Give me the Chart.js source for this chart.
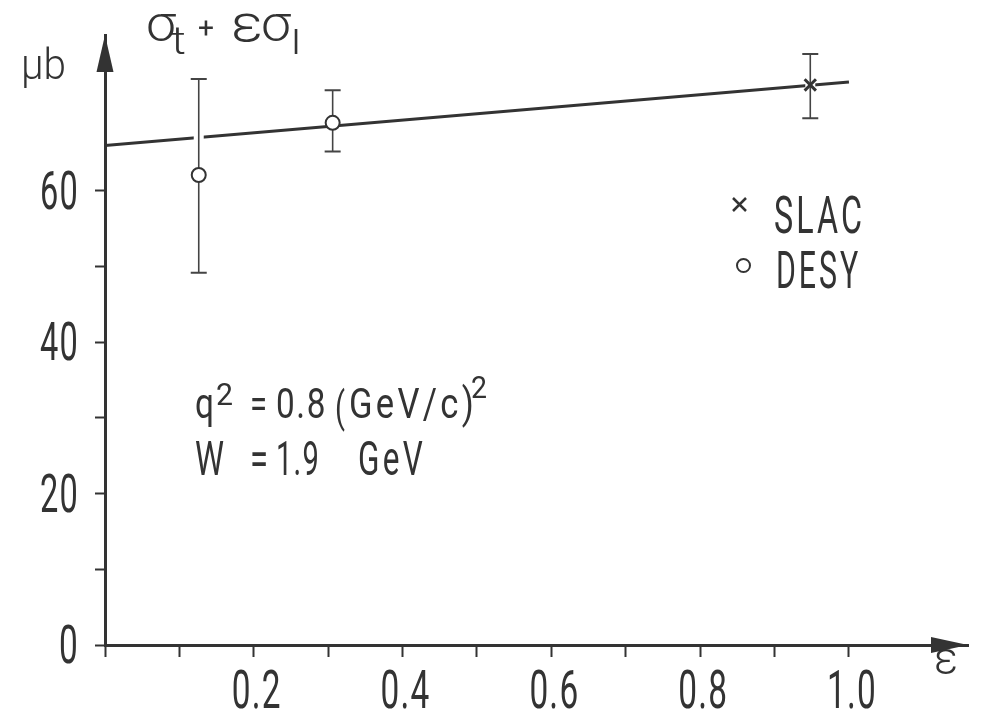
<!DOCTYPE html>
<html>
<head>
<meta charset="utf-8">
<script src="https://cdn.jsdelivr.net/npm/chart.js@4/dist/chart.umd.min.js"></script>
<style>
  body { margin: 0; background: #fff; }
  canvas { display: block; }
</style>
</head>
<body>
<canvas id="chart" width="984" height="724"></canvas>
<script>
// sigma_t + eps*sigma_l versus eps, q^2 = 0.8 (GeV/c)^2, W = 1.9 GeV
const desyEps = [0.126, 0.306];
const desySigma = [62.1, 69.0];
const desyLow = [49.2, 65.2];
const desyHigh = [74.8, 73.3];

const slacEps = [0.948];
const slacSigma = [74.0];
const slacLow = [69.6];
const slacHigh = [78.1];

// straight-line fit through the points
const fitEps = [0, 1.0];
const fitSigma = [66.0, 74.4];

const xTicks = [0, 0.1, 0.2, 0.3, 0.4, 0.5, 0.6, 0.7, 0.8, 0.9, 1.0];
const xLabels = [0.2, 0.4, 0.6, 0.8, 1.0];
const yTicks = [0, 10, 20, 30, 40, 50, 60];
const yLabels = [0, 20, 40, 60];

const ink = '#333';

function points(xs, ys, lo, hi) {
    return xs.map(function (x, i) {
        return { x: x, y: ys[i], lo: lo ? lo[i] : null, hi: hi ? hi[i] : null };
    });
}

// narrow drafting lettering: glyphs squeezed/stretched to a given width
function drawText(ctx, str, x, y, size, width, align, spacing, weight) {
    ctx.save();
    ctx.font = (weight || 400) + ' ' + size + 'px Roboto';
    ctx.letterSpacing = (spacing || 0) + 'px';
    ctx.textBaseline = 'alphabetic';
    ctx.fillStyle = ink;
    const sx = width / ctx.measureText(str).width;
    let x0 = x;
    if (align === 'center') x0 = x - width / 2;
    else if (align === 'right') x0 = x - width;
    ctx.translate(x0, y);
    ctx.scale(sx, 1);
    ctx.fillText(str, 0, 0);
    ctx.restore();
}

const errorBars = {
    id: 'errorBars',
    afterDatasetDraw: function (chart, args) {
        if (args.index !== 0) return;   // right after the fit line
        const ctx = chart.ctx;
        const xs = chart.scales.x, ys = chart.scales.y;
        ctx.save();
        chart.data.datasets.forEach(function (ds) {
            ds.data.forEach(function (p) {
                if (p.lo === null) return;
                const px = xs.getPixelForValue(p.x);
                const top = ys.getPixelForValue(p.hi);
                const bot = ys.getPixelForValue(p.lo);
                // white gap where the bar crosses the line
                ctx.strokeStyle = '#fff';
                ctx.lineWidth = 10;
                ctx.beginPath();
                ctx.moveTo(px, top + 3);
                ctx.lineTo(px, bot - 3);
                ctx.stroke();
                ctx.strokeStyle = '#444';
                ctx.lineWidth = 1.6;
                ctx.beginPath();
                ctx.moveTo(px, top);
                ctx.lineTo(px, bot);
                ctx.stroke();
                ctx.lineWidth = 2;
                ctx.beginPath();
                ctx.moveTo(px - 8, top);
                ctx.lineTo(px + 8, top);
                ctx.moveTo(px - 8, bot);
                ctx.lineTo(px + 8, bot);
                ctx.stroke();
            });
        });
        ctx.restore();
    }
};

const decorations = {
    id: 'decorations',
    afterDraw: function (chart) {
        const ctx = chart.ctx;
        const xs = chart.scales.x, ys = chart.scales.y;
        const a = chart.chartArea;

        // arrow heads
        ctx.save();
        ctx.fillStyle = ink;
        ctx.beginPath();
        ctx.moveTo(a.left, a.top);
        ctx.lineTo(a.left - 8.5, a.top + 37);
        ctx.lineTo(a.left + 8.5, a.top + 37);
        ctx.closePath();
        ctx.fill();
        ctx.beginPath();
        ctx.moveTo(a.right, a.bottom);
        ctx.lineTo(a.right - 37, a.bottom - 8);
        ctx.lineTo(a.right - 37, a.bottom + 8);
        ctx.closePath();
        ctx.fill();
        ctx.restore();

        // tick labels
        yLabels.forEach(function (v) {
            const s = String(v);
            drawText(ctx, s, 79, ys.getPixelForValue(v) + 18, 54, 19 * s.length + 1, 'right', 2);
        });
        xLabels.forEach(function (v) {
            drawText(ctx, v.toFixed(1), xs.getPixelForValue(v) + 3, 708, 54, 50, 'center', 2);
        });

        // axis names
        drawText(ctx, 'μb', 21, 79, 42, 45, 'left', 0, 300);
        drawText(ctx, 'ε', 934, 674, 46, 24, 'left', 0, 300);

        // sigma_t + eps sigma_l
        drawText(ctx, 'σ', 146, 41, 50, 30, 'left', 0, 300);
        drawText(ctx, 't', 171, 54, 38, 15, 'left', 0, 300);
        drawText(ctx, '+', 198, 38, 30, 16, 'left', 0, 400);
        drawText(ctx, 'ε', 231, 41, 52, 32, 'left', 0, 300);
        drawText(ctx, 'σ', 261, 41, 50, 30, 'left', 0, 300);
        drawText(ctx, 'l', 291, 54, 34, 10, 'left', 0, 300);

        // kinematics
        drawText(ctx, 'q', 195, 418, 42, 19, 'left');
        drawText(ctx, '2', 216, 405, 31, 17, 'left');
        drawText(ctx, '=', 250, 418, 42, 17, 'left');
        drawText(ctx, '0.8', 276, 418, 42, 51, 'left', 2);
        drawText(ctx, '(', 335, 422, 42, 10, 'left');
        drawText(ctx, 'GeV/c)', 349, 418, 42, 128, 'left', 4);
        drawText(ctx, '2', 471, 398, 31, 16, 'left');
        drawText(ctx, 'W', 195, 475, 48, 29, 'left');
        drawText(ctx, '=', 250, 475, 48, 18, 'left');
        drawText(ctx, '1.9', 276, 475, 48, 44, 'left', 2);
        drawText(ctx, 'GeV', 358, 475, 48, 68, 'left', 5);

        // legend
        ctx.save();
        ctx.strokeStyle = ink;
        ctx.lineWidth = 2.5;
        ctx.beginPath();
        ctx.moveTo(733, 198); ctx.lineTo(746, 211);
        ctx.moveTo(746, 198); ctx.lineTo(733, 211);
        ctx.stroke();
        ctx.lineWidth = 2;
        ctx.beginPath();
        ctx.arc(743.5, 265.5, 6.5, 0, Math.PI * 2);
        ctx.stroke();
        ctx.restore();
        drawText(ctx, 'SLAC', 774, 233, 52, 91, 'left', 5);
        drawText(ctx, 'DESY', 776, 288, 52, 85, 'left', 5);
    }
};

new Chart(document.getElementById('chart'), {
    type: 'scatter',
    data: {
        datasets: [
            {
                label: 'fit',
                data: points(fitEps, fitSigma),
                showLine: true,
                borderColor: ink,
                borderWidth: 3,
                pointRadius: 0,
                order: 1
            },
            {
                label: 'DESY',
                data: points(desyEps, desySigma, desyLow, desyHigh),
                pointStyle: 'circle',
                pointRadius: 7,
                pointBorderWidth: 2,
                pointBorderColor: ink,
                pointBackgroundColor: '#fff'
            },
            {
                label: 'SLAC',
                data: points(slacEps, slacSigma, slacLow, slacHigh),
                pointStyle: 'crossRot',
                pointRadius: 8,
                pointBorderWidth: 3,
                pointBorderColor: ink
            }
        ]
    },
    options: {
        responsive: false,
        animation: false,
        layout: {
            autoPadding: false,
            padding: { left: 95, right: 16, top: 35, bottom: 67 }
        },
        plugins: {
            legend: { display: false },
            tooltip: { enabled: false }
        },
        scales: {
            x: {
                type: 'linear',
                min: 0,
                max: 1.16,
                afterBuildTicks: function (axis) {
                    axis.ticks = xTicks.map(function (v) { return { value: v }; });
                },
                ticks: { display: false },
                grid: {
                    drawOnChartArea: false,
                    drawTicks: true,
                    tickLength: 12,
                    tickWidth: 2,
                    tickColor: ink
                },
                border: { display: true, color: ink, width: 3 }
            },
            y: {
                type: 'linear',
                min: 0,
                max: 80.6,
                afterBuildTicks: function (axis) {
                    axis.ticks = yTicks.map(function (v) { return { value: v }; });
                },
                ticks: { display: false },
                grid: {
                    drawOnChartArea: false,
                    drawTicks: true,
                    tickLength: 10,
                    tickWidth: 2,
                    tickColor: ink
                },
                border: { display: true, color: ink, width: 3 }
            }
        }
    },
    plugins: [errorBars, decorations]
});
</script>
</body>
</html>
